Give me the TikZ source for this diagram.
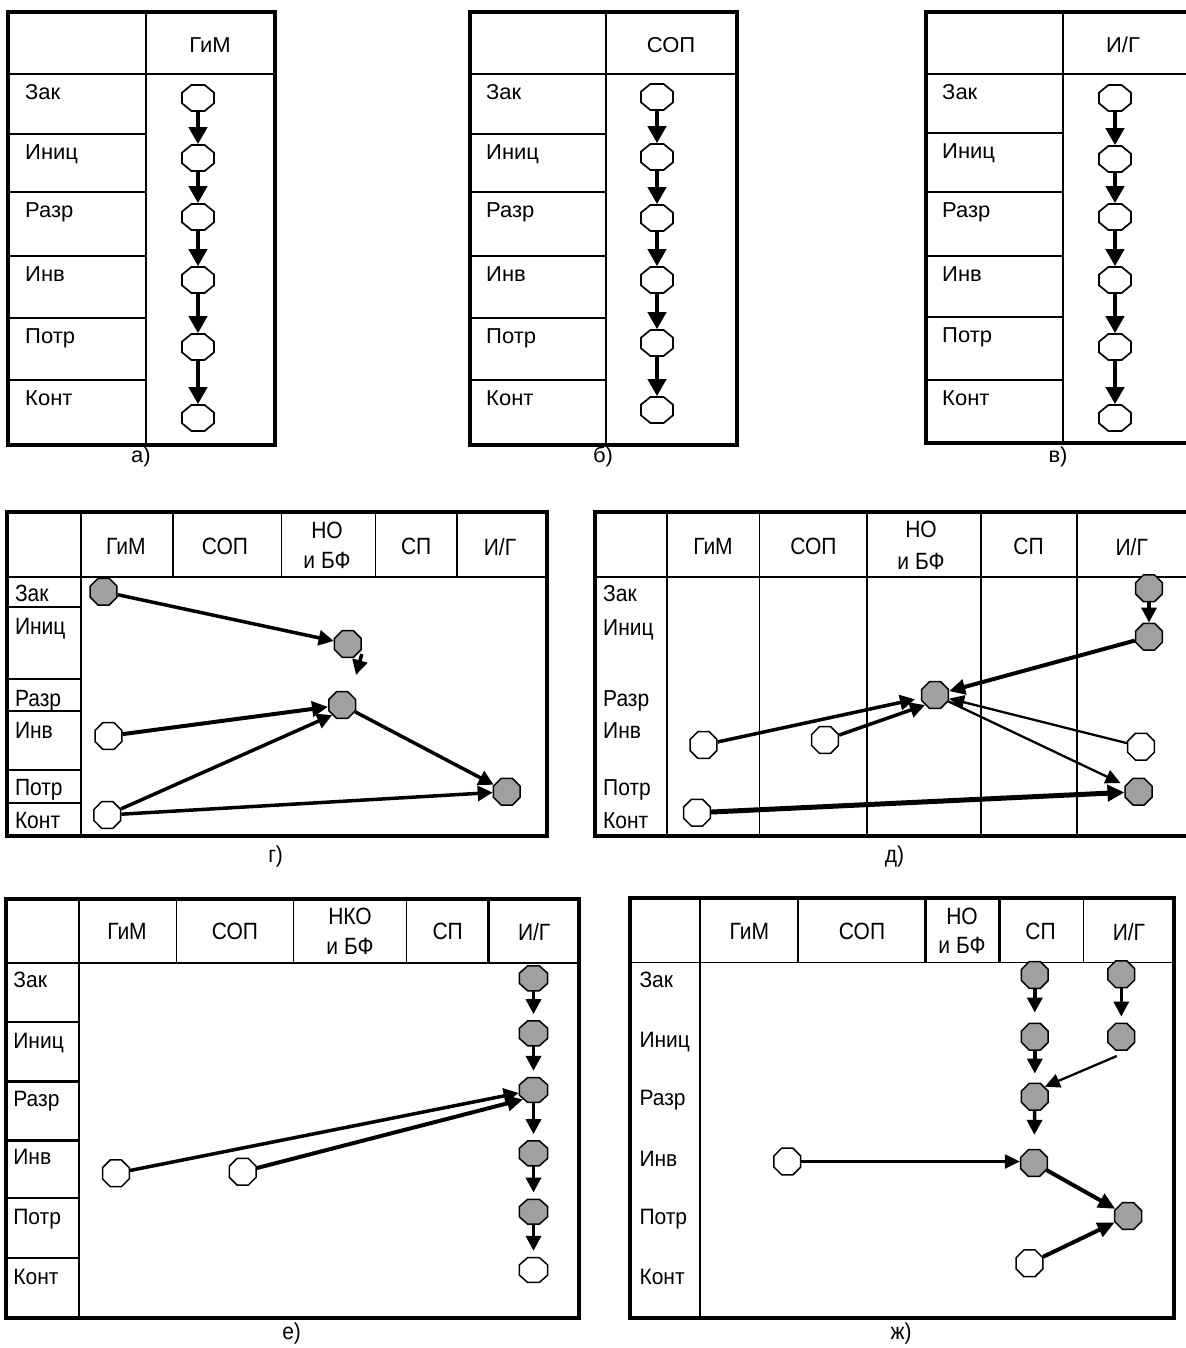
\documentclass[tikz,border=0pt]{standalone}
\usepackage{fontspec}
\setmainfont{Liberation Sans}
\usetikzlibrary{shapes.geometric,arrows.meta}
\definecolor{nodegray}{RGB}{160,160,160}
\newcommand{\myfont}{\fontsize{21}{28}\selectfont}
\newcommand{\topfont}{\fontsize{22}{28}\selectfont}
\begin{document}
\begin{tikzpicture}[x=1pt,y=-1pt,
  outer/.style={line width=4pt},
  inner/.style={line width=1.8pt},
  thinl/.style={line width=1.3pt},
  thickl/.style={line width=3pt},
  oct/.style={draw=black, line width=1.5pt, regular polygon, regular polygon sides=8, minimum size=29pt, inner sep=0pt, fill=white},
  wA/.style={oct, line width=1.7pt, xscale=1.19, yscale=0.97},
  gn/.style={oct, fill=nodegray},
  wn/.style={oct},
  arrA/.style={line width=4pt, -{Triangle[length=17pt,width=18pt]}},
  arr/.style={line width=3.5pt, -{Triangle[length=15pt,width=15pt]}},
  arrB/.style={line width=4pt, -{Triangle[length=17pt,width=15pt]}},
  arrT/.style={line width=2.3pt, -{Triangle[length=15pt,width=14pt]}},
  lab/.style={font=\myfont, inner sep=0pt, anchor=base west},
  hdr/.style={font=\myfont, inner sep=0pt, align=center},
  sA/.style={font=\topfont, yscale=0.98},
  sG/.style={yscale=1.12},
  sD/.style={yscale=1.1},
  sE/.style={yscale=1.06},
  sH/.style={yscale=1.12},
]
\useasboundingbox (0,0) rectangle (1185,1348);

% ---------------- panel a ----------------
\draw[inner] (146,12) -- (146,445);
\draw[inner] (8,74) -- (275,74);
\foreach \y in {134,192,256,318,380} \draw[inner] (8,\y) -- (146,\y);
\draw[outer] (8,12) rectangle (275,445);
\node[hdr,sA] (aH) at (210,45) {ГиМ};
\node[lab,sA] (aL1) at (25,99.5) {Зак};
\node[lab,sA] (aL2) at (25,159.5) {Иниц};
\node[lab,sA] (aL3) at (25,217.5) {Разр};
\node[lab,sA] (aL4) at (25,281.5) {Инв};
\node[lab,sA] (aL5) at (25,343.5) {Потр};
\node[lab,sA] (aL6) at (25,405.5) {Конт};
\foreach \i/\y in {1/98,2/158,3/217,4/280,5/347,6/418} \node[wA] (a\i) at (198,\y) {};
\foreach \i/\j in {1/2,2/3,3/4,4/5,5/6} \draw[arrA] (a\i) -- (a\j);
\node[hdr,sA] (aC) at (141,457) {а)};

% ---------------- panel b ----------------
\draw[inner] (606,12) -- (606,445);
\draw[inner] (470,74) -- (737,74);
\foreach \y in {134,192,256,318,380} \draw[inner] (470,\y) -- (606,\y);
\draw[outer] (470,12) rectangle (737,445);
\node[hdr,sA] (bH) at (671,45) {СОП};
\node[lab,sA] (bL1) at (486,99.5) {Зак};
\node[lab,sA] (bL2) at (486,159.5) {Иниц};
\node[lab,sA] (bL3) at (486,217.5) {Разр};
\node[lab,sA] (bL4) at (486,281.5) {Инв};
\node[lab,sA] (bL5) at (486,343.5) {Потр};
\node[lab,sA] (bL6) at (486,405.5) {Конт};
\foreach \i/\y in {1/97,2/157,3/218,4/280,5/343,6/410} \node[wA] (b\i) at (657,\y) {};
\foreach \i/\j in {1/2,2/3,3/4,4/5,5/6} \draw[arrA] (b\i) -- (b\j);
\node[hdr,sA] (bC) at (603,457) {б)};

% ---------------- panel v ----------------
\draw[inner] (1063,12) -- (1063,443);
\draw[inner] (926,74) -- (1192,74);
\foreach \y in {133,192,256,317,380} \draw[inner] (926,\y) -- (1063,\y);
\draw[outer] (926,12) rectangle (1195,443);
\node[hdr,sA] (vH) at (1123,45) {И/Г};
\node[lab,sA] (vL1) at (942,99.5) {Зак};
\node[lab,sA] (vL2) at (942,158.5) {Иниц};
\node[lab,sA] (vL3) at (942,217.5) {Разр};
\node[lab,sA] (vL4) at (942,281.5) {Инв};
\node[lab,sA] (vL5) at (942,342.5) {Потр};
\node[lab,sA] (vL6) at (942,405.5) {Конт};
\foreach \i/\y in {1/98,2/159,3/217,4/280,5/347,6/418} \node[wA] (v\i) at (1115,\y) {};
\foreach \i/\j in {1/2,2/3,3/4,4/5,5/6} \draw[arrA] (v\i) -- (v\j);
\node[hdr,sA] (vC) at (1058,457) {в)};

% ---------------- panel g ----------------
\draw[inner] (80.6,512) -- (80.6,836);
\draw[inner] (6.7,577) -- (547,577);
\foreach \x in {173.1,281.2,375.5,456.9} \draw[thinl] (\x,512) -- (\x,577);
\foreach \y in {607.3,679,711.3,770,802.7} \draw[inner] (6.7,\y) -- (80.6,\y);
\draw[outer] (6.7,512) rectangle (547,836);
\node[hdr,sH] (gH1) at (125.8,546.7) {ГиМ};
\node[hdr,sH] (gH2) at (225,546.7) {СОП};
\node[hdr,sH,font=\fontsize{21}{27}\selectfont] (gH3) at (327,545.5) {НО\\и БФ};
\node[hdr,sH] (gH4) at (416.2,546.7) {СП};
\node[hdr,sH] (gH5) at (500,546.7) {И/Г};
\node[lab,sG] (gL1) at (14.8,601) {Зак};
\node[lab,sG] (gL2) at (14.8,634) {Иниц};
\node[lab,sG] (gL3) at (14.8,706) {Разр};
\node[lab,sG] (gL4) at (14.8,738) {Инв};
\node[lab,sG] (gL5) at (14.8,795) {Потр};
\node[lab,sG] (gL6) at (14.8,828) {Конт};
\node[gn] (g1) at (103.6,591.7) {};
\node[gn] (g2) at (347.8,644) {};
\node[gn] (g3) at (342.2,705) {};
\node[wn] (g4) at (108.4,736) {};
\node[wn] (g5) at (107.3,815) {};
\node[gn] (g6) at (506.8,791.7) {};
\coordinate (gd) at (356,675);
\draw[arr] (g1) -- (g2);
\draw[arr] ([xshift=4pt]g2.south east) -- (gd);
\draw[line width=4pt, -{Triangle[length=16pt,width=15pt]}] (g4) -- (g3);
\draw[arr] (g5) -- (g3.south west);
\draw[arr] (g3) -- (g6);
\draw[arr] (g5) -- (g6);
\node[hdr,sD] (gC) at (275.6,856.7) {г)};

% ---------------- panel d ----------------
\foreach \x in {666.8,759.4,866.6,981.2,1076.9} \draw[inner] (\x,512) -- (\x,836);
\draw[inner] (594.7,577) -- (1192,577);
\draw[outer] (594.7,512) rectangle (1195,836);
\node[hdr,sH] (dH1) at (713,546.7) {ГиМ};
\node[hdr,sH] (dH2) at (813.4,546.7) {СОП};
\node[hdr,sH,font=\fontsize{21}{29}\selectfont] (dH3) at (921,545.5) {НО\\и БФ};
\node[hdr,sH] (dH4) at (1028.5,546.7) {СП};
\node[hdr,sH] (dH5) at (1131.7,546.7) {И/Г};
\node[lab,sD] (dL1) at (603,601.6) {Зак};
\node[lab,sD] (dL2) at (603,635) {Иниц};
\node[lab,sD] (dL3) at (603,706.6) {Разр};
\node[lab,sD] (dL4) at (603,738.3) {Инв};
\node[lab,sD] (dL5) at (603,795) {Потр};
\node[lab,sD] (dL6) at (603,828.3) {Конт};
\node[gn] (d1) at (1149,588.3) {};
\node[gn] (d2) at (1149,636.7) {};
\node[gn] (dc) at (935,695) {};
\node[wn] (dw1) at (703.5,745) {};
\node[wn] (dw2) at (825,740) {};
\node[wn] (dw3) at (1141,746.7) {};
\node[gn] (dg) at (1138.6,791.7) {};
\node[wn] (dw4) at (697,812.7) {};
\draw[arr] (d1) -- (d2);
\draw[line width=4pt, -{Triangle[length=16pt,width=15pt]}] (d2) -- (dc);
\draw[arr, shorten >=6pt] (dw1) -- (dc);
\draw[arr] (dw2) -- (dc.south west);
\draw[arrT] (dw3) -- (dc);
\draw[arrT, shorten >=5pt] (dc) -- (dg);
\draw[line width=5pt, -{Triangle[length=17pt,width=16pt]}] (dw4) -- (dg);
\node[hdr,sD] (dC) at (894.4,856.7) {д)};

% ---------------- panel e ----------------
\draw[inner] (79,899.3) -- (79,1318.3);
\draw[inner] (5.6,962.7) -- (579.4,962.7);
\foreach \x in {176.8,293.5,406.3} \draw[thinl] (\x,899.3) -- (\x,962.7);
\draw[thickl] (488.5,899.3) -- (488.5,962.7);
\foreach \y in {1021.7,1198.3,1257.7} \draw[inner] (5.6,\y) -- (79,\y);
\foreach \y in {1081.7,1140} \draw[thickl] (5.6,\y) -- (79,\y);
\draw[outer] (5.6,899.3) rectangle (579.4,1318.3);
\node[hdr,sH] (eH1) at (127,931.7) {ГиМ};
\node[hdr,sH] (eH2) at (235,931.7) {СОП};
\node[hdr,sH,font=\fontsize{21}{26}\selectfont] (eH3) at (350,931.3) {НКО\\и БФ};
\node[hdr,sH] (eH4) at (447.7,931.7) {СП};
\node[hdr,sH] (eH5) at (534.2,931.7) {И/Г};
\node[lab,sE] (eL1) at (13.2,987.3) {Зак};
\node[lab,sE] (eL2) at (13.2,1048) {Иниц};
\node[lab,sE] (eL3) at (13.2,1106.3) {Разр};
\node[lab,sE] (eL4) at (13.2,1164.7) {Инв};
\node[lab,sE] (eL5) at (13.2,1224.7) {Потр};
\node[lab,sE] (eL6) at (13.2,1284.7) {Конт};
\foreach \i/\y in {1/978.3,2/1033.3,3/1090,4/1153.3,5/1211.7} \node[gn,xscale=1.05,yscale=0.93] (e\i) at (533.5,\y) {};
\node[wn,xscale=1.05,yscale=0.93] (e6) at (533.5,1270) {};
\foreach \i/\j in {1/2,2/3,3/4,4/5,5/6} \draw[arr, shorten >=6pt] (e\i) -- (e\j);
\node[wn] (ew1) at (115.9,1173.3) {};
\node[wn] (ew2) at (242.7,1171.7) {};
\draw[arr] (ew1) -- (e3);
\draw[line width=4pt, -{Triangle[length=16pt,width=15pt]}] (ew2) -- (e3.south west);
\node[hdr,sD] (eC) at (291.6,1333.3) {е)};

% ---------------- panel zh ----------------
\draw[inner] (700,898.3) -- (700,1318.3);
\draw[thinl] (629.8,962.7) -- (1173.7,962.7);
\draw[thinl] (798,898.3) -- (798,962.7);
\draw[thickl] (925.1,898.3) -- (925.1,962.7);
\draw[thickl] (999.1,898.3) -- (999.1,962.7);
\draw[thinl] (1083.4,898.3) -- (1083.4,962.7);
\draw[outer] (629.8,898.3) rectangle (1173.7,1318.3);
\node[hdr,sH] (jH1) at (749.4,931.7) {ГиМ};
\node[hdr,sH] (jH2) at (862,931.7) {СОП};
\node[hdr,sH,font=\fontsize{21}{26}\selectfont] (jH3) at (962,931) {НО\\и БФ};
\node[hdr,sH] (jH4) at (1040.5,931.7) {СП};
\node[hdr,sH] (jH5) at (1128.9,931.7) {И/Г};
\node[lab,sE] (jL1) at (639.3,987.3) {Зак};
\node[lab,sE] (jL2) at (639.3,1047.3) {Иниц};
\node[lab,sE] (jL3) at (639.3,1105.3) {Разр};
\node[lab,sE] (jL4) at (639.3,1166.3) {Инв};
\node[lab,sE] (jL5) at (639.3,1224.7) {Потр};
\node[lab,sE] (jL6) at (639.3,1284) {Конт};
\node[gn] (s1) at (1034.8,975) {};
\node[gn] (s2) at (1034.8,1036.7) {};
\node[gn] (s3) at (1034.8,1096.7) {};
\node[gn] (s4) at (1034,1163) {};
\node[gn] (i1) at (1121.3,974.3) {};
\node[gn] (i2) at (1121.3,1036.7) {};
\node[gn] (p) at (1128.1,1216) {};
\node[wn] (jw1) at (787.3,1161.5) {};
\node[wn] (jw2) at (1029.5,1263.3) {};
\draw[arr, shorten >=10pt] (s1) -- (s2);
\draw[arr, shorten >=9pt] (s2) -- (s3);
\draw[arr, shorten >=14pt] (s3) -- (s4);
\draw[arr, shorten >=6pt] (i1) -- (i2);
\draw[arrT] ([xshift=-4.5pt,yshift=-19.3pt]i2.center) -- (s3.north east);
\draw[line width=2.2pt, -{Triangle[length=15pt,width=14pt]}] (jw1.east) -- (jw1.east -| s4.west);
\draw[arrB] (s4) -- (p);
\draw[arrB] (jw2) -- (p);
\node[hdr,sD] (jC) at (901.2,1333.3) {ж)};
\end{tikzpicture}
\end{document}
